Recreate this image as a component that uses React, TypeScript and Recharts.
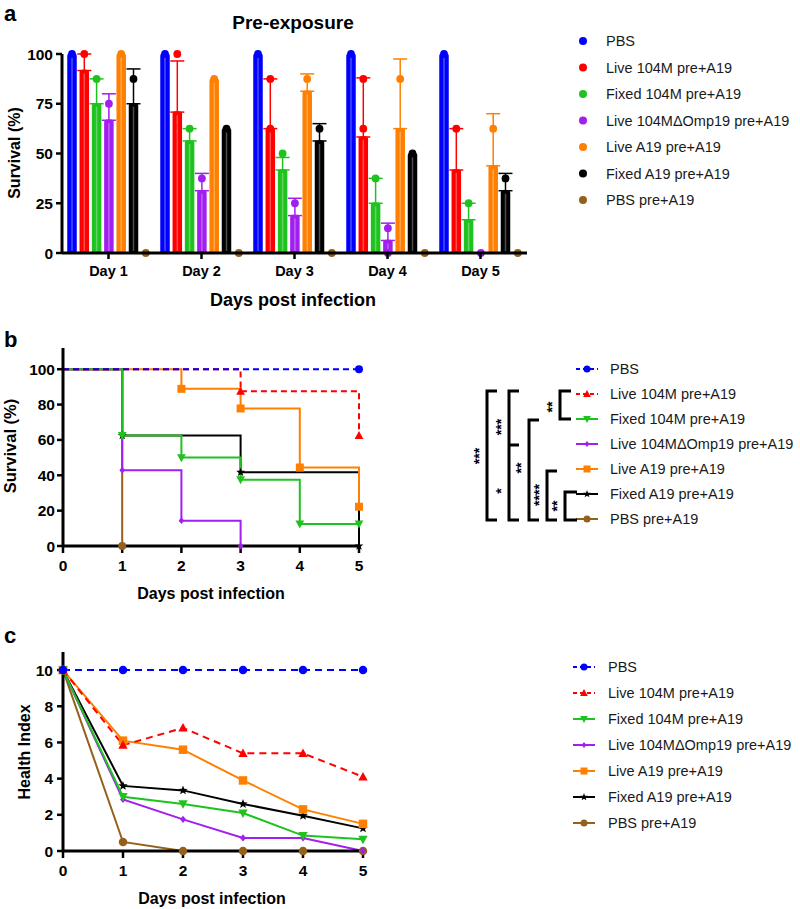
import React from 'react';
import { BarChart, Bar, ErrorBar, LineChart, Line, XAxis, YAxis, Legend } from 'recharts';

const FONT = '"Liberation Sans", Arial, Helvetica, sans-serif';

const GROUPS = [
  'PBS',
  'Live 104M pre+A19',
  'Fixed 104M pre+A19',
  'Live 104MΔOmp19 pre+A19',
  'Live A19 pre+A19',
  'Fixed A19 pre+A19',
  'PBS pre+A19',
];
const KEYS = ['pbs', 'live104m', 'fixed104m', 'omp19', 'liveA19', 'fixedA19', 'pbsPre'];
const COLORS = ['#0000ff', '#ff0000', '#1fc21f', '#a21fef', '#ff8000', '#000000', '#94601c'];
const SHAPES = ['circle', 'up', 'down', 'diamond', 'square', 'star', 'circle'];
const DASHED = [true, true, false, false, false, false, false];

// panel a: survival per day (mean, upper error limit, single animals)
const DAY_LABELS = ['Day 1', 'Day 2', 'Day 3', 'Day 4', 'Day 5'];
const PRE_MEAN = [
  [100, 100, 100, 100, 100],
  [91.7, 70.8, 62.5, 58.3, 41.7],
  [75, 56.3, 41.7, 25, 16.7],
  [66.7, 31.3, 18.8, 6.3, 0],
  [100, 87.5, 81.3, 62.5, 43.8],
  [75, 62.5, 56.3, 50, 31.3],
  [0, 0, 0, 0, 0],
];
const PRE_UPPER = [
  [null, null, null, null, null],
  [100, 96.5, 87.5, 88, 62.5],
  [87.5, 62.5, 48, 37.5, 25],
  [80, 40, 27.5, 15, null],
  [null, null, 90, 97.5, 70],
  [92.5, null, 65, null, 40],
  [null, null, null, null, null],
];
const PRE_DOTS = [
  [[100], [100], [100], [100], [100]],
  [[100], [100], [87.5, 62.5], [87.5, 62.5], [62.5]],
  [[87.5], [62.5], [50], [37.5], [25]],
  [[75], [37.5], [25], [12.5, 0], [0]],
  [[100], [87.5], [87.5], [87.5], [62.5]],
  [[87.5], [62.5], [62.5], [50], [37.5]],
  [[0], [0], [0], [0], [0]],
];

// panel b: Kaplan-Meier survival (%)
const DAYS = [0, 1, 2, 3, 4, 5];
const SURV = [
  [100, 100, 100, 100, 100, 100],
  [100, 100, 100, 87.5, 87.5, 62.5],
  [100, 62.5, 50, 37.5, 12.5, 12.5],
  [100, 42.9, 14.3, 0, null, null],
  [100, 100, 88.9, 77.8, 44.4, 22.2],
  [100, 62.5, 62.5, 41.7, 41.7, 0],
  [100, 0, null, null, null, null],
];

// panel c: health index
const HEALTH = [
  [10, 10, 10, 10, 10, 10],
  [10, 5.85, 6.8, 5.4, 5.4, 4.1],
  [10, 3.0, 2.6, 2.1, 0.85, 0.65],
  [10, 2.85, 1.75, 0.72, 0.72, 0],
  [10, 6.1, 5.6, 3.9, 2.3, 1.5],
  [10, 3.6, 3.35, 2.6, 1.95, 1.25],
  [10, 0.5, 0, 0, 0, 0],
];

const preData = DAY_LABELS.map((day, d) => {
  const row: any = { day };
  KEYS.forEach((k, g) => {
    row[k] = PRE_MEAN[g][d];
    const up = PRE_UPPER[g][d];
    row[k + 'Err'] = up == null ? null : [0, up - PRE_MEAN[g][d]];
    row[k + 'Dots'] = PRE_DOTS[g][d];
  });
  return row;
});

const survData = DAYS.map((day, d) => {
  const row: any = { day };
  KEYS.forEach((k, g) => (row[k] = SURV[g][d]));
  return row;
});

const healthData = DAYS.map((day, d) => {
  const row: any = { day };
  KEYS.forEach((k, g) => (row[k] = HEALTH[g][d]));
  return row;
});

const starPath = (cx: number, cy: number, r: number) => {
  const pts: string[] = [];
  for (let i = 0; i < 10; i++) {
    const rr = i % 2 === 0 ? r : r * 0.42;
    const a = -Math.PI / 2 + (i * Math.PI) / 5;
    pts.push(`${cx + rr * Math.cos(a)},${cy + rr * Math.sin(a)}`);
  }
  return 'M' + pts.join('L') + 'Z';
};

const Marker = ({ shape, cx, cy, color, s }: any) => {
  const h = s / 2;
  switch (shape) {
    case 'up':
      return <path d={`M${cx},${cy - h * 1.15}L${cx + h * 1.1},${cy + h * 0.85}L${cx - h * 1.1},${cy + h * 0.85}Z`} fill={color} />;
    case 'down':
      return <path d={`M${cx},${cy + h * 1.15}L${cx + h * 1.1},${cy - h * 0.85}L${cx - h * 1.1},${cy - h * 0.85}Z`} fill={color} />;
    case 'diamond':
      return <path d={`M${cx},${cy - h * 0.85}L${cx + h * 0.7},${cy}L${cx},${cy + h * 0.85}L${cx - h * 0.7},${cy}Z`} fill={color} />;
    case 'square':
      return <rect x={cx - h} y={cy - h} width={s} height={s} fill={color} />;
    case 'star':
      return <path d={starPath(cx, cy, h * 1.15)} fill={color} />;
    default:
      return <circle cx={cx} cy={cy} r={h} fill={color} />;
  }
};

const axisLine = { stroke: '#000', strokeWidth: 3 };
const tickLine = { stroke: '#000', strokeWidth: 2.5 };
const tickFont = { fill: '#000', fontSize: 15.5, fontWeight: 700, fontFamily: FONT };

const preBarShape = (g: number) => (props: any) => {
  const { x, y, width, height, value, payload } = props;
  const c = COLORS[g];
  const bottom = y + height;
  const unit = value > 0 ? height / value : 0;
  const dots: number[] = payload[KEYS[g] + 'Dots'] || [];
  const mid = x + width / 2;
  return (
    <g>
      {height > 0 && (
        <rect x={x} y={y} width={width} height={height} rx={2} fill={c} stroke={c} strokeWidth={1.5} />
      )}
      {height > 6 && (
        <line x1={mid} x2={mid} y1={y + 3} y2={bottom - 2} stroke="#fff" strokeOpacity={0.3} strokeWidth={1.5} />
      )}
      {dots.map((v, i) => (
        <circle key={i} cx={mid} cy={bottom - v * unit} r={3.9} fill={c} />
      ))}
    </g>
  );
};

const PreLegend = () => (
  <svg width={240} height={230} style={{ fontFamily: FONT }}>
    {GROUPS.map((name, g) => (
      <g key={name} transform={`translate(0, ${41 + g * 26.5})`}>
        <circle cx={23} cy={0} r={4} fill={COLORS[g]} />
        <text x={46} y={0} dominantBaseline="central" fontSize={14.5} fill="#1a1a1a">{name}</text>
      </g>
    ))}
  </svg>
);

const LineLegend = ({ y0, step, sx, tx }: any) => (
  <>
    {GROUPS.map((name, g) => (
      <g key={name} transform={`translate(0, ${y0 + g * step})`}>
        <line x1={sx - 11} x2={sx + 11} y1={0} y2={0} stroke={COLORS[g]} strokeWidth={2}
          strokeDasharray={DASHED[g] ? '4 3' : undefined} />
        <Marker shape={SHAPES[g]} cx={sx} cy={0} color={COLORS[g]} s={7} />
        <text x={tx} y={0} dominantBaseline="central" fontSize={14.5} fill="#1a1a1a">{name}</text>
      </g>
    ))}
  </>
);

// significance brackets next to the KM legend (coords relative to legend box)
const BRACKETS = [
  { x: 90, y1: 91, y2: 119, w: 11, mid: null, labels: [{ t: '**', y: 107 }] },
  { x: 77, y1: 171, y2: 220, w: 10, mid: null, labels: [{ t: '****', y: 195 }] },
  { x: 95, y1: 192, y2: 220, w: 12, mid: null, labels: [{ t: '**', y: 206 }] },
  { x: 59, y1: 120, y2: 220, w: 10, mid: null, labels: [{ t: '**', y: 168 }] },
  { x: 39, y1: 91, y2: 220, w: 10, mid: 145, labels: [{ t: '***', y: 127 }, { t: '*', y: 191 }] },
  { x: 17, y1: 91, y2: 220, w: 10, mid: null, labels: [{ t: '***', y: 156 }] },
];

const SurvLegend = () => (
  <svg width={330} height={240} style={{ fontFamily: FONT }}>
    <LineLegend y0={69} step={25} sx={117} tx={140} />
    {BRACKETS.map((b, i) => (
      <g key={i}>
        <path d={`M${b.x + b.w},${b.y1}H${b.x}V${b.y2}H${b.x + b.w}`} fill="none" stroke="#000" strokeWidth={3} />
        {b.mid != null && <path d={`M${b.x},${b.mid}H${b.x + b.w}`} stroke="#000" strokeWidth={3} />}
        {b.labels.map((l, j) => (
          <text key={j} transform={`translate(${b.x - 8}, ${l.y}) rotate(-90)`} textAnchor="middle"
            dominantBaseline="central" fontSize={14} fontWeight={700} fill="#000">{l.t}</text>
        ))}
      </g>
    ))}
  </svg>
);

const HealthLegend = () => (
  <svg width={240} height={230} style={{ fontFamily: FONT }}>
    <LineLegend y0={47} step={26} sx={24} tx={48} />
  </svg>
);

const kmDot = (g: number) => (props: any) => {
  const { cx, cy, index } = props;
  const s = SURV[g];
  const v = s[index];
  const show = v != null && cx != null && cy != null &&
    (index === s.length - 1 || (index > 0 && v !== s[index - 1]));
  return (
    <g key={`km${g}-${index}`}>
      {show && <Marker shape={SHAPES[g]} cx={cx} cy={cy} color={COLORS[g]} s={8} />}
    </g>
  );
};

const healthDot = (g: number) => (props: any) => {
  const { cx, cy, index, value } = props;
  return (
    <g key={`hi${g}-${index}`}>
      {value != null && cy != null && <Marker shape={SHAPES[g]} cx={cx} cy={cy} color={COLORS[g]} s={8.5} />}
    </g>
  );
};

const order = KEYS.map((_, g) => g).reverse();

const App = () => (
  <div style={{ position: 'absolute', left: 0, top: 0, width: 800, height: 909, background: '#fff', fontFamily: FONT }}>
    <div style={{ position: 'absolute', left: 0, top: 0 }}>
      <BarChart width={800} height={300} data={preData} margin={{ top: 54, right: 273, bottom: 17, left: 0 }} barGap={4.3}>
        <XAxis dataKey="day" axisLine={axisLine} tickLine={tickLine} tickSize={6} tickMargin={7}
          tick={{ ...tickFont, fontSize: 14.5 }} height={30} interval={0} />
        <YAxis domain={[0, 100]} ticks={[0, 25, 50, 75, 100]} axisLine={axisLine} tickLine={tickLine}
          tickSize={6} tickMargin={3} tick={tickFont} width={62} interval={0} />
        {KEYS.map((k, g) => (
          <Bar key={k} dataKey={k} name={GROUPS[g]} fill={COLORS[g]} barSize={8} shape={preBarShape(g)} isAnimationActive={false}>
            <ErrorBar dataKey={k + 'Err'} width={7} stroke={COLORS[g]} strokeWidth={1.5} direction="y" isAnimationActive={false} />
          </Bar>
        ))}
        <Legend layout="vertical" align="center" verticalAlign="middle" content={() => <PreLegend />}
          wrapperStyle={{ left: 560, top: 0, width: 240, height: 230 }} />
      </BarChart>
    </div>

    <div style={{ position: 'absolute', left: 0, top: 300 }}>
      <LineChart width={800} height={310} data={survData} margin={{ top: 48, right: 441, bottom: 34, left: 0 }}>
        <XAxis type="number" dataKey="day" domain={[0, 5]} ticks={DAYS} axisLine={axisLine} tickLine={tickLine}
          tickSize={7} tickMargin={7} tick={tickFont} height={30} interval={0} />
        <YAxis domain={[0, 112]} ticks={[0, 20, 40, 60, 80, 100]} axisLine={axisLine} tickLine={tickLine}
          tickSize={6} tickMargin={2} tick={tickFont} width={63} interval={0} />
        {order.map((g) => (
          <Line key={KEYS[g]} type="stepAfter" dataKey={KEYS[g]} name={GROUPS[g]} stroke={COLORS[g]} strokeWidth={2}
            strokeDasharray={DASHED[g] ? '6 4' : undefined} dot={kmDot(g)} activeDot={false}
            isAnimationActive={false} />
        ))}
        <Legend layout="vertical" align="center" verticalAlign="middle" content={() => <SurvLegend />}
          wrapperStyle={{ left: 470, top: 0, width: 330, height: 240 }} />
      </LineChart>
    </div>

    <div style={{ position: 'absolute', left: 0, top: 620 }}>
      <LineChart width={800} height={289} data={healthData} margin={{ top: 32, right: 437, bottom: 28, left: 0 }}>
        <XAxis type="number" dataKey="day" domain={[0, 5]} ticks={DAYS} axisLine={axisLine} tickLine={tickLine}
          tickSize={7} tickMargin={7} tick={tickFont} height={30} interval={0} />
        <YAxis domain={[0, 11]} ticks={[0, 2, 4, 6, 8, 10]} axisLine={axisLine} tickLine={tickLine}
          tickSize={6} tickMargin={4} tick={tickFont} width={63} interval={0} />
        {order.map((g) => (
          <Line key={KEYS[g]} type="linear" dataKey={KEYS[g]} name={GROUPS[g]} stroke={COLORS[g]} strokeWidth={2}
            strokeDasharray={DASHED[g] ? '7 5' : undefined} dot={healthDot(g)} activeDot={false}
            isAnimationActive={false} />
        ))}
        <Legend layout="vertical" align="center" verticalAlign="middle" content={() => <HealthLegend />}
          wrapperStyle={{ left: 560, top: 0, width: 240, height: 230 }} />
      </LineChart>
    </div>

    <svg width={800} height={909} style={{ position: 'absolute', left: 0, top: 0, pointerEvents: 'none', fontFamily: FONT }}>
      <text x={4} y={21} fontSize={22} fontWeight={700}>a</text>
      <text x={293} y={22} textAnchor="middle" dominantBaseline="central" fontSize={19} fontWeight={700}>Pre-exposure</text>
      <text transform="translate(14,153) rotate(-90)" textAnchor="middle" dominantBaseline="central" fontSize={16} fontWeight={700}>Survival (%)</text>
      <text x={293} y={300} textAnchor="middle" dominantBaseline="central" fontSize={18} fontWeight={700}>Days post infection</text>

      <text x={4} y={347} fontSize={22} fontWeight={700}>b</text>
      <text transform="translate(10,446) rotate(-90)" textAnchor="middle" dominantBaseline="central" fontSize={16.5} fontWeight={700}>Survival (%)</text>
      <text x={211} y={593} textAnchor="middle" dominantBaseline="central" fontSize={16} fontWeight={700}>Days post infection</text>

      <text x={4} y={643} fontSize={22} fontWeight={700}>c</text>
      <text transform="translate(24,752) rotate(-90)" textAnchor="middle" dominantBaseline="central" fontSize={16} fontWeight={700}>Health Index</text>
      <text x={212} y={898} textAnchor="middle" dominantBaseline="central" fontSize={16} fontWeight={700}>Days post infection</text>
    </svg>
  </div>
);

export default App;
